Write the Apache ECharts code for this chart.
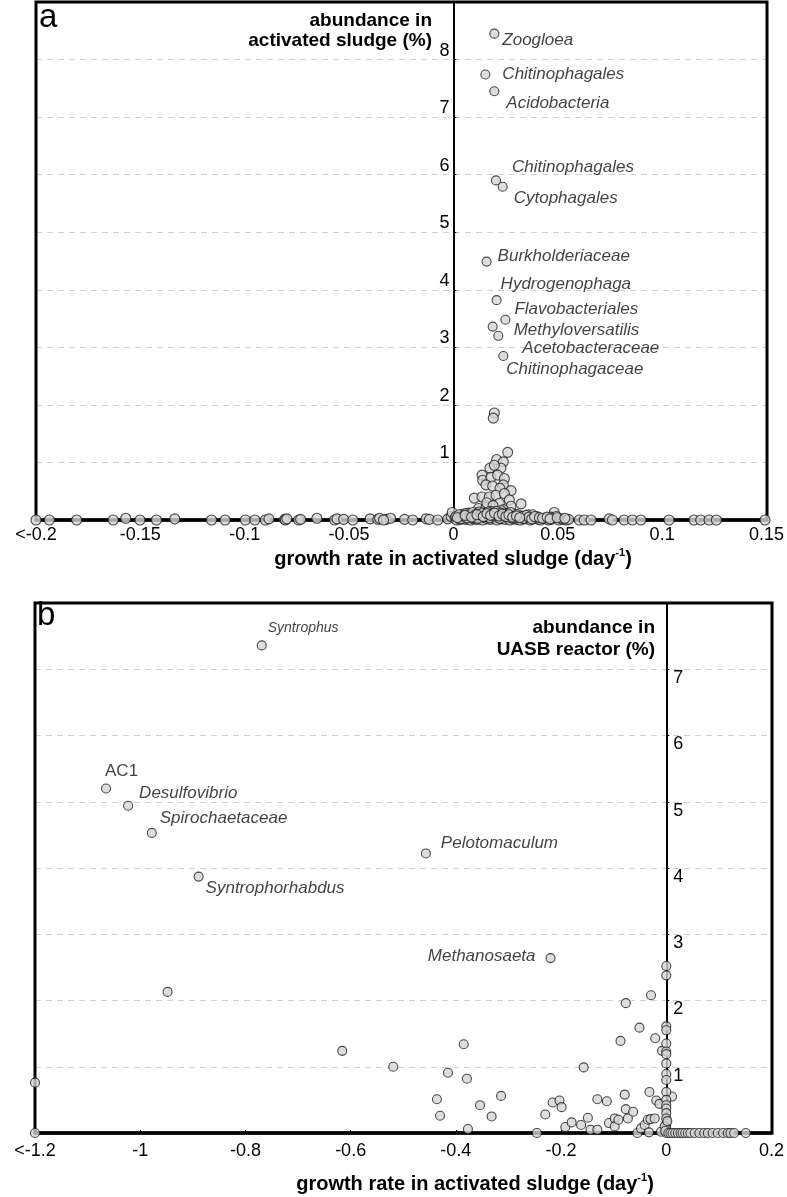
<!DOCTYPE html>
<html>
<head>
<meta charset="utf-8">
<script src="https://cdn.jsdelivr.net/npm/echarts@6/dist/echarts.min.js"></script>
<style>
html,body{margin:0;padding:0;background:#fff;}
#chart{width:787px;height:1197px;}
</style>
</head>
<body>
<div id="chart"></div>
<script>
// ---------- Panel a: activated sludge ----------
const aXTicks = [-0.2, -0.15, -0.1, -0.05, 0, 0.05, 0.1, 0.15];
const aYTicks = [1, 2, 3, 4, 5, 6, 7, 8];

const aLabelNames = ['Zoogloea','Chitinophagales','Acidobacteria','Chitinophagales','Cytophagales',
  'Burkholderiaceae','Hydrogenophaga','Flavobacteriales','Methyloversatilis','Acetobacteraceae','Chitinophagaceae'];
const aLabelGrowth = [0.0196, 0.0153, 0.0196, 0.0204, 0.0236, 0.0159, 0.0207, 0.0249, 0.0188, 0.0215, 0.0239];
const aLabelAbund  = [8.45, 7.74, 7.45, 5.90, 5.79, 4.49, 3.82, 3.48, 3.36, 3.20, 2.85];

const aGrowth = [
  -0.2,-0.1936,-0.1805,-0.163,-0.157,-0.1502,-0.1423,-0.1335,-0.1159,-0.1094,-0.0997,-0.0951,-0.0901,-0.0884,
  -0.0809,-0.0805,-0.0798,-0.0742,-0.0732,-0.0654,-0.0569,-0.0558,-0.0526,-0.0482,-0.0399,-0.0362,-0.0354,-0.0322,
  -0.0301,-0.0335,-0.0234,-0.0195,-0.0131,-0.0115,-0.0075,-0.0027,-0.0011,
  0.0603,0.0627,0.0659,0.0746,0.0762,0.0818,0.0858,0.0898,0.1033,0.1153,0.1185,0.1225,0.126,0.1493,
  0.0196,0.0191,0.026,0.0207,0.0239,0.0175,0.0228,0.0196,0.0137,0.014,0.018,0.0212,0.0244,0.0239,0.0156,
  0.0188,0.0223,0.0276,0.01,0.0137,0.0172,0.0204,0.0244,0.0268,0.0121,0.0156,0.022,0.0276,0.0324,-0.0006,0.0483,
  0.016,0.019,0.024,0.011,0.018,0.026,0.03,0.014,0.021,0.033,0.036,0.04,0.0085,0.0228,0.0283,0.0381,0.0467,
  0.0008,0.0015,0.0024,0.0031,0.0038,0.0046,0.0052,0.0061,0.0067,0.0075,0.0083,0.0089,0.0097,0.0104,0.0112,
  0.0118,0.0127,0.0133,0.0141,0.0149,0.0158,0.0163,0.0171,0.0179,0.0186,0.0194,0.0202,0.0209,0.0217,0.0226,
  0.0232,0.0241,0.0248,0.0256,0.0263,0.0271,0.0279,0.0287,0.0295,0.0304,0.0312,0.0321,0.0333,0.0342,0.0356,
  0.0368,0.0381,0.0394,0.0407,0.0418,0.0432,0.0445,0.0456,0.0469,0.0478,0.0493,0.0505,0.0517,0.0528,0.0541,0.0552,
  0.0043,0.0072,0.0095,0.0123,0.0147,0.0169,0.0191,0.0214,0.0237,0.0262,0.0289,0.0316,
  0.0012,0.0027,0.0035,0.0049,0.0058,0.0064,0.0079,0.0092,0.0101,0.0109,0.0116,0.0131,0.0138,0.0152,0.0166,
  0.0174,0.0183,0.0199,0.0206,0.0221,0.0229,0.0245,0.0253,0.0268,0.0274,0.0292,0.0299,0.0309,0.0327,0.0338,
  0.0349,0.0362,0.0375,0.0389,0.0412,0.0427,0.0449,0.0463,0.0498,0.0534,
  0.0019,0.0056,0.0087,0.0113,0.0143,0.0161,0.0178,0.0197,0.0218,0.0235,0.0251,0.0266,0.0284,0.0302,0.0318
];
const aAbund = [
  0,0,0,0,0.03,0,0,0.02,0,0,0,0,0,0.02,
  0.01,0,0.02,0,0.01,0.03,0,0.02,0.01,0,0.02,0.01,0.03,0.01,
  0.03,0,0.01,0,0.02,0.01,0,0.02,0.06,
  0,0,0,0.02,0,0,0,0,0,0,0,0,0,0,
  1.86,1.77,1.175,1.05,1.01,0.90,0.90,0.95,0.78,0.69,0.74,0.78,0.72,0.61,0.61,
  0.59,0.55,0.51,0.38,0.40,0.40,0.43,0.46,0.35,0.20,0.22,0.29,0.24,0.28,0.13,0.13,
  0.30,0.25,0.18,0.12,0.15,0.12,0.10,0.08,0.10,0.07,0.09,0.06,0.07,0.16,0.09,0.09,0.05,
  0.03,0,0.05,0.01,0.04,0.02,0.06,0.01,0.03,0.07,0,0.04,0.02,0.06,0.01,
  0.05,0.02,0.08,0,0.04,0.07,0.02,0.05,0.01,0.09,0.03,0.06,0,0.04,0.08,
  0.02,0.05,0.01,0.07,0.03,0,0.06,0.02,0.04,0.01,0.05,0,0.03,0.02,0.04,
  0,0.02,0.05,0.01,0,0.03,0.02,0,0.01,0.04,0.06,0,0.02,0.01,0,0.01,
  0.10,0.12,0.08,0.14,0.11,0.13,0.09,0.12,0.10,0.11,0.08,0.06,
  0.06,0.09,0.02,0.07,0.11,0.04,0.08,0.13,0.05,0.10,0.03,0.09,0.12,0.06,0.14,
  0.04,0.11,0.07,0.15,0.03,0.12,0.08,0.10,0.05,0.13,0.07,0.04,0.09,0.06,0.03,
  0.08,0.05,0.02,0.06,0.04,0.03,0.05,0.02,0.04,0.03,
  0.04,0.08,0.05,0.09,0.06,0.11,0.08,0.12,0.07,0.10,0.06,0.09,0.05,0.07,0.04
];

// ---------- Panel b: UASB reactor ----------
const bXTicks = [-1.2, -1, -0.8, -0.6, -0.4, -0.2, 0, 0.2];
const bYTicks = [1, 2, 3, 4, 5, 6, 7];

const bLabelNames = ['Syntrophus','AC1','Desulfovibrio','Spirochaetaceae','Syntrophorhabdus','Pelotomaculum','Methanosaeta'];
const bLabelGrowth = [-0.769, -1.065, -1.023, -0.978, -0.889, -0.457, -0.220];
const bLabelAbund  = [7.36, 5.20, 4.94, 4.53, 3.87, 4.22, 2.64];

const bGrowth = [
  -1.2,-1.2,-0.948,-0.616,-0.519,-0.385,-0.415,-0.379,-0.436,-0.43,-0.354,-0.314,-0.332,-0.377,-0.246,
  -0.157,-0.23,-0.216,-0.203,-0.199,-0.192,-0.18,-0.162,-0.149,-0.144,-0.131,-0.131,-0.113,-0.109,-0.098,
  -0.098,-0.091,-0.079,-0.077,-0.073,-0.063,-0.087,-0.077,-0.051,-0.029,-0.021,-0.032,-0.019,-0.013,-0.055,
  -0.048,-0.041,-0.035,-0.03,-0.022,-0.033,-0.008,-0.01,0.011,
  0,0,0,0,0,0,0,0,0,0,0,0,0,0,0,0,0,0,0,-0.003,0.002,-0.002,
  0.004,0.008,0.012,0.017,0.022,0.027,0.031,0.036,0.041,0.046,
  0.054,0.063,0.072,0.079,0.088,0.098,0.108,0.117,0.122,0.129,0.151
];
const bAbund = [
  0,0.76,2.13,1.24,1.0,1.34,0.91,0.82,0.51,0.26,0.42,0.56,0.25,0.06,0,
  0.99,0.28,0.46,0.49,0.39,0.09,0.16,0.12,0.23,0.05,0.05,0.51,0.48,0.15,0.22,
  0.1,0.2,0.58,0.36,0.22,0.32,1.39,1.96,1.59,2.08,1.43,0.62,0.49,0.44,0,
  0.07,0.12,0.2,0.21,0.22,0.01,1.24,0.02,0.55,
  2.52,2.38,1.61,1.55,1.35,1.23,1.19,1.05,0.89,0.8,0.62,0.5,0.42,0.37,0.3,0.22,0.14,0.07,0,0.1,0.18,0.03,
  0,0,0,0,0,0,0,0,0,0,
  0,0,0,0,0,0,0,0,0,0,0
];

// ---------- label placement (pixel offsets from the point) ----------
const aLabelOffsets = [[8,7],[17,0],[12,12],[16,-13],[11,12],[11,-5],[4,-16],[9,-10],[21,4],[24,12],[3,13]];
const bLabelOffsets = [[6,-17],[-1,-17],[11,-12],[8,-15],[7,12],[15,-10],[-15,-2]];
const bLabelAlign = ['left','left','left','left','left','left','right'];

const FONT = "'Liberation Sans', Arial, Helvetica, sans-serif";
const pointStyle = {color:'#d4d4d4', borderColor:'#1e1e1e', borderWidth:1.1};
const GRIDS = [
  {left:36, right:20, top:2, height:518},
  {left:35, right:15, top:603, height:530}
];

function zip(xs, ys){ return xs.map((x,i)=>[x, ys[i]]); }

const chart = echarts.init(document.getElementById('chart'), null, {renderer:'canvas'});

function xAxisFor(idx, ticks, tickShow, margin){
  const min = ticks[0], max = ticks[ticks.length-1];
  const interval = +(ticks[1]-ticks[0]).toFixed(4);
  return {
    type:'value', gridIndex: idx, min, max, interval,
    axisLine:{show:true, onZero:false, lineStyle:{color:'#000', width:3.5}},
    axisTick:{show:tickShow, inside:true, length:3, lineStyle:{color:'#000', width:1}},
    splitLine:{show:false},
    axisLabel:{
      color:'#000', fontSize:18, fontFamily:FONT, margin,
      formatter:(v)=>{
        if (Math.abs(v-min) < 1e-9) return '<' + min;
        const t = ticks.find(tt=>Math.abs(tt-v)<1e-9);
        return t===undefined ? '' : String(t);
      }
    }
  };
}
function yAxisFor(idx, max, ticks, inside, vAlign){
  return {
    type:'value', gridIndex: idx, min:0, max, interval:1, position:'left', offset:0,
    axisLine:{show:true, onZero:false, lineStyle:{color:'#000', width:2}},
    axisTick:{show:true, inside:true, length:3, lineStyle:{color:'#000'}},
    splitLine:{show:true, lineStyle:{color:'#d0d0d0', type:[6,5], width:1}},
    axisLabel:{
      inside, color:'#000', fontSize:18, fontFamily:FONT, margin: inside?7:4,
      verticalAlign:vAlign,
      formatter:(v)=> ticks.indexOf(Math.round(v))>=0 && Math.abs(v-Math.round(v))<1e-9 ? String(Math.round(v)) : ''
    }
  };
}

const option = {
  animation:false,
  backgroundColor:'#fff',
  grid: GRIDS.map(g=>Object.assign({show:false}, g)),
  xAxis:[ xAxisFor(0, aXTicks, false, 6), xAxisFor(1, bXTicks, true, 9) ],
  yAxis:[ yAxisFor(0, 9, aYTicks, false, 'bottom'), yAxisFor(1, 8, bYTicks, true, 'top') ],
  series:[
    {type:'scatter', xAxisIndex:0, yAxisIndex:0, clip:false, symbolSize:10, itemStyle:pointStyle,
     data: zip(aGrowth, aAbund)},
    {type:'scatter', xAxisIndex:0, yAxisIndex:0, clip:false, symbolSize:9, itemStyle:pointStyle,
     data: aLabelNames.map((n,i)=>({name:n, value:[aLabelGrowth[i], aLabelAbund[i]],
       label:{show:true, position:'inside', align:'left', verticalAlign:'middle', offset:aLabelOffsets[i]}})),
     label:{show:true, formatter:'{b}', color:'#111', fontSize:17, fontStyle:'italic', fontFamily:FONT}},
    {type:'scatter', xAxisIndex:1, yAxisIndex:1, clip:false, symbolSize:9, itemStyle:pointStyle,
     data: zip(bGrowth, bAbund)},
    {type:'scatter', xAxisIndex:1, yAxisIndex:1, clip:false, symbolSize:9, itemStyle:pointStyle,
     data: bLabelNames.map((n,i)=>({name:n, value:[bLabelGrowth[i], bLabelAbund[i]],
       label:{show:true, position:'inside', align:bLabelAlign[i], verticalAlign:'middle', offset:bLabelOffsets[i],
         fontSize: n==='Syntrophus' ? 14 : 17,
         fontStyle: n==='AC1' ? 'normal' : 'italic'}})),
     label:{show:true, formatter:'{b}', color:'#111', fontSize:17, fontStyle:'italic', fontFamily:FONT}}
  ],
  graphic:[
    {type:'text', x:39, y:1, style:{text:'a', fontSize:33, fontFamily:FONT, fill:'#000'}},
    {type:'text', x:37, y:599, style:{text:'b', fontSize:33, fontFamily:FONT, fill:'#000'}},
    {type:'text', x:432, y:11, style:{text:'abundance in\nactivated sludge (%)', fontSize:19, fontWeight:'bold',
      fontFamily:FONT, fill:'#000', lineHeight:20, align:'right', textAlign:'right'}},
    {type:'text', x:655, y:617, style:{text:'abundance in\nUASB reactor (%)', fontSize:19, fontWeight:'bold',
      fontFamily:FONT, fill:'#000', lineHeight:22, align:'right', textAlign:'right'}},
    {type:'text', x:453, y:547, style:{text:'{m|growth rate in activated sludge (day}{s|-1}{m|)}',
      align:'center', textAlign:'center', fill:'#000',
      rich:{m:{fontSize:20, fontWeight:'bold', fontFamily:FONT, lineHeight:22, verticalAlign:'bottom'},
            s:{fontSize:11, fontWeight:'bold', fontFamily:FONT, lineHeight:22, verticalAlign:'top'}}}},
    {type:'text', x:475, y:1172, style:{text:'{m|growth rate in activated sludge (day}{s|-1}{m|)}',
      align:'center', textAlign:'center', fill:'#000',
      rich:{m:{fontSize:20, fontWeight:'bold', fontFamily:FONT, lineHeight:22, verticalAlign:'bottom'},
            s:{fontSize:11, fontWeight:'bold', fontFamily:FONT, lineHeight:22, verticalAlign:'top'}}}}
  ]
};
chart.setOption(option);

// place each y axis on growth = 0 and draw frames above split lines but below points
const W = 787;
const yOffsets = [0,1].map(i=>{
  const px0 = chart.convertToPixel({xAxisIndex:i}, 0);
  return -(px0 - GRIDS[i].left);
});
const frames = GRIDS.map((g,i)=>({
  type:'rect', z:1, silent:true,
  shape:{x:g.left, y:g.top, width:W-g.left-g.right, height:g.height},
  style:{fill:'none', stroke:'#000', lineWidth:3}
}));
chart.setOption({
  yAxis:[{offset:yOffsets[0]},{offset:yOffsets[1]}],
  graphic: option.graphic.concat(frames)
});
</script>
</body>
</html>
